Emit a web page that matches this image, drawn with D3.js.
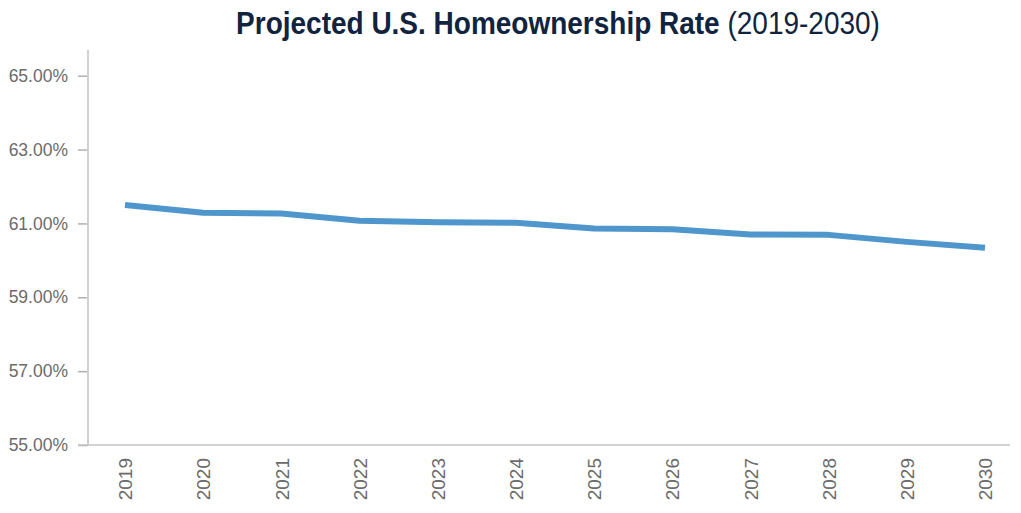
<!DOCTYPE html>
<html><head><meta charset="utf-8">
<script src="https://cdn.jsdelivr.net/npm/d3@7"></script>
<style>
html,body{margin:0;padding:0;background:#fff;}
svg{display:block;}
</style></head>
<body>
<svg id="chart" width="1021" height="513"></svg>
<script>
const years = ["2019","2020","2021","2022","2023","2024","2025","2026","2027","2028","2029","2030"];
const rates = [61.50,61.29,61.27,61.07,61.03,61.02,60.86,60.84,60.70,60.69,60.50,60.34];
const yTicks = [55,57,59,61,63,65];
const titleBold = "Projected U.S. Homeownership Rate";
const titleLight = " (2019-2030)";

const svg = d3.select("#chart");
const x = d3.scalePoint().domain(years).range([125, 985]);
const y = d3.scaleLinear().domain([55,65]).range([445, 75.7]);

// y axis
const yAxis = d3.axisLeft(y).tickValues(yTicks).tickSize(10).tickPadding(10)
  .tickFormat(d => d.toFixed(2) + "%");
const gy = svg.append("g").attr("transform","translate(88,0)").call(yAxis);
gy.select(".domain").remove();
gy.selectAll(".tick line").attr("stroke","#b0b0b0").attr("stroke-width",1.5);
gy.selectAll(".tick text").attr("fill","#6b6b6b")
  .style("font-family","'Liberation Sans', Arial, sans-serif").style("font-size","17.5px");
svg.append("line").attr("x1",88).attr("x2",88).attr("y1",50).attr("y2",445)
  .attr("stroke","#d0d0d0").attr("stroke-width",2);

// x axis
const xAxis = d3.axisBottom(x).tickSize(0).tickPadding(0);
const gx = svg.append("g").attr("transform","translate(0,445)").call(xAxis);
gx.select(".domain").remove();
svg.append("line").attr("x1",78).attr("x2",1010).attr("y1",445).attr("y2",445)
  .attr("stroke","#c4c4c4").attr("stroke-width",1.5);
gx.selectAll(".tick text")
  .attr("fill","#6b6b6b")
  .style("font-family","'Liberation Sans', Arial, sans-serif").style("font-size","19px")
  .attr("text-anchor","end")
  .attr("dy","0.35em")
  .attr("transform","translate(0,13) rotate(-90)");

// line
const line = d3.line().x((d,i)=>x(years[i])).y(d=>y(d));
svg.append("path").datum(rates)
  .attr("d", line)
  .attr("fill","none")
  .attr("stroke","#4f96cc")
  .attr("stroke-width",6)
  .attr("stroke-linejoin","round");

// title (condensed by horizontal scaling)
const tg = svg.append("g").attr("transform","translate(558,34) scale(0.875,1)");
const t = tg.append("text").attr("x",0).attr("y",0).attr("text-anchor","middle")
  .style("font-family","'Liberation Sans', Arial, sans-serif")
  .style("font-size","32px").attr("fill","#10233f");
t.append("tspan").text(titleBold).style("font-weight","bold");
t.append("tspan").text(titleLight).style("font-weight","normal");
</script>
</body></html>
